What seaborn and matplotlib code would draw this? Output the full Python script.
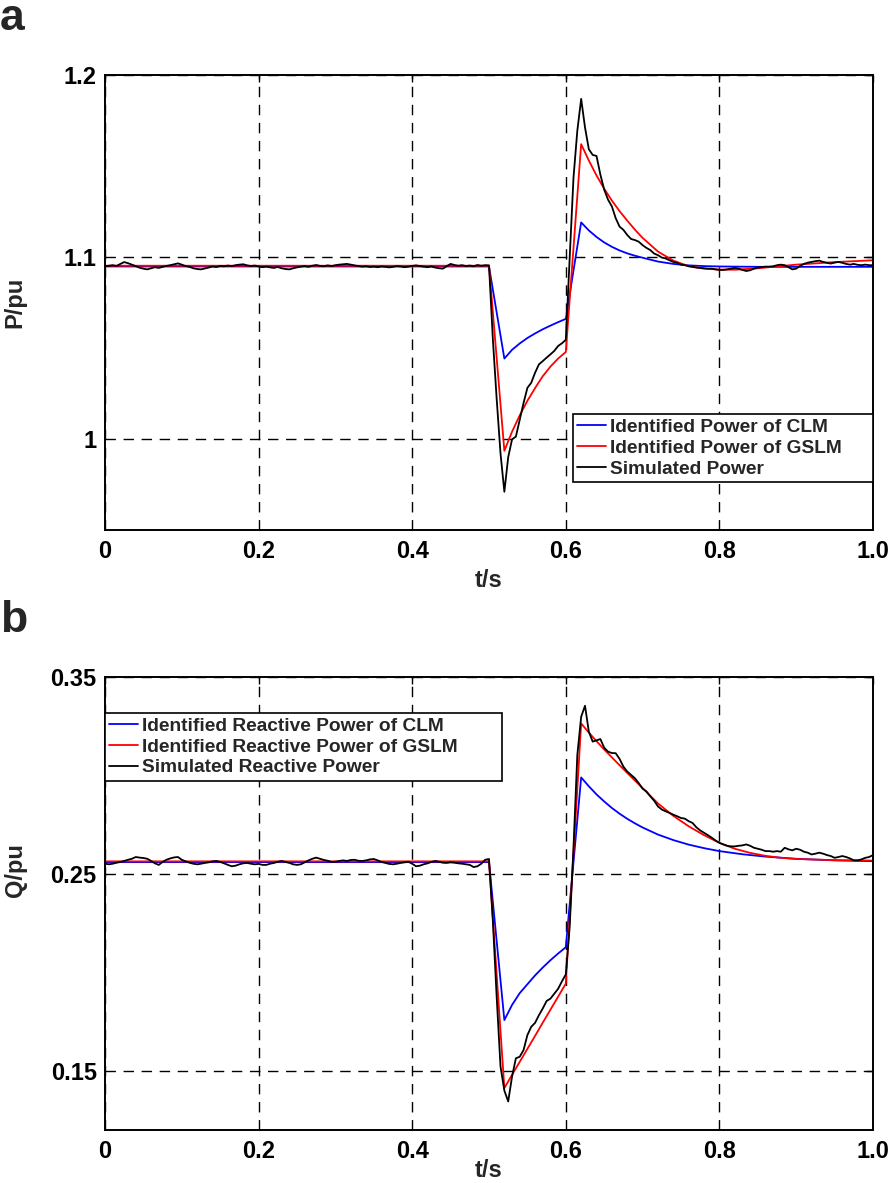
import numpy as np
import matplotlib
matplotlib.use('Agg')
import matplotlib.pyplot as plt
import seaborn as sns

# ---- panel a: active power ----
clm_p_t = [0, 0.50, 0.52, 0.53, 0.54, 0.55, 0.56, 0.57, 0.58, 0.59, 0.60, 0.62, 0.63, 0.64,
           0.65, 0.66, 0.67, 0.68, 0.69, 0.70, 0.72, 0.74, 0.76, 0.78, 0.80, 0.85, 0.90, 1.00]
clm_p = [1.0948, 1.0948, 1.0442, 1.0490, 1.0525, 1.0555, 1.0580, 1.0603, 1.0623, 1.0642,
         1.0660, 1.1190, 1.1146, 1.1110, 1.1080, 1.1056, 1.1036, 1.1020, 1.1007, 1.0996,
         1.0975, 1.0962, 1.0954, 1.0950, 1.0948, 1.0946, 1.0946, 1.0946]

gslm_p_t = [0, 0.50, 0.52, 0.53, 0.54, 0.55, 0.56, 0.57, 0.58, 0.59, 0.60, 0.62, 0.63, 0.64,
            0.65, 0.66, 0.67, 0.68, 0.69, 0.70, 0.72, 0.74, 0.76, 0.78, 0.80, 0.82, 0.85,
            0.90, 0.95, 1.00]
gslm_p = [1.0952, 1.0952, 0.9935, 1.0040, 1.0130, 1.0210, 1.0280, 1.0345, 1.0398, 1.0442,
          1.0478, 1.1620, 1.1530, 1.1448, 1.1375, 1.1310, 1.1252, 1.1200, 1.1150, 1.1105,
          1.1030, 1.0980, 1.0950, 1.0936, 1.0931, 1.0930, 1.0938, 1.0958, 1.0972, 1.0982]

# simulated power, sampled every 0.005 s
sim_t = np.round(np.arange(201) * 0.005, 3)
sim_p = [1.0950, 1.0952, 1.0955, 1.0951, 1.0962, 1.0972, 1.0966, 1.0958, 1.0950, 1.0941, 1.0936,
         1.0932, 1.0938, 1.0944, 1.0940, 1.0946, 1.0951, 1.0955, 1.0960, 1.0965, 1.0958,
         1.0950, 1.0946, 1.0938, 1.0934, 1.0932, 1.0937, 1.0942, 1.0948, 1.0945, 1.0951,
         1.0949, 1.0953, 1.0950, 1.0955, 1.0958, 1.0960, 1.0954, 1.0950, 1.0953, 1.0948,
         1.0944, 1.0947, 1.0943, 1.0940, 1.0945, 1.0938, 1.0934, 1.0932, 1.0938, 1.0943,
         1.0947, 1.0950, 1.0946, 1.0952, 1.0956, 1.0951, 1.0949, 1.0954, 1.0950, 1.0955,
         1.0958, 1.0960, 1.0962, 1.0958, 1.0954, 1.0950, 1.0947, 1.0949, 1.0945, 1.0947,
         1.0944, 1.0948, 1.0946, 1.0943, 1.0946, 1.0950, 1.0948, 1.0944, 1.0947, 1.0951,
         1.0954, 1.0950, 1.0947, 1.0944, 1.0948, 1.0942, 1.0938, 1.0936, 1.0950, 1.0962,
         1.0956, 1.0952, 1.0955, 1.0950, 1.0953, 1.0949, 1.0956, 1.0952, 1.0955, 1.0954,
         1.0550, 1.0220, 0.9920, 0.9710, 0.9900, 0.9998, 1.0013, 1.0105, 1.0198, 1.0281,
         1.0309, 1.0364, 1.0410, 1.0428, 1.0447, 1.0465, 1.0484, 1.0511, 1.0526, 1.0545,
         1.0992, 1.1435, 1.1694, 1.1869, 1.1712, 1.1592, 1.1561, 1.1555, 1.1453, 1.1370,
         1.1315, 1.1278, 1.1213, 1.1167, 1.1149, 1.1121, 1.1099, 1.1093, 1.1084, 1.1065,
         1.1050, 1.1038, 1.1019, 1.1010, 1.0997, 1.0992, 1.0982, 1.0973, 1.0968, 1.0958,
         1.0955, 1.0949, 1.0946, 1.0942, 1.0940, 1.0938, 1.0936, 1.0936, 1.0932, 1.0929,
         1.0929, 1.0932, 1.0936, 1.0940, 1.0936, 1.0929, 1.0923, 1.0927, 1.0936, 1.0942,
         1.0944, 1.0947, 1.0947, 1.0949, 1.0955, 1.0958, 1.0955, 1.0944, 1.0932, 1.0936,
         1.0951, 1.0962, 1.0969, 1.0973, 1.0977, 1.0980, 1.0973, 1.0968, 1.0964, 1.0969,
         1.0973, 1.0968, 1.0962, 1.0958, 1.0962, 1.0957, 1.0955, 1.0958, 1.0955, 1.0955]

# ---- panel b: reactive power ----
clm_q_t = [0, 0.50, 0.52, 0.53, 0.54, 0.55, 0.56, 0.57, 0.58, 0.59, 0.60, 0.62, 0.63, 0.64,
           0.65, 0.66, 0.67, 0.68, 0.69, 0.70, 0.72, 0.74, 0.76, 0.78, 0.80, 0.83, 0.86,
           0.90, 0.95, 1.00]
clm_q = [0.2560, 0.2560, 0.1758, 0.1835, 0.1895, 0.1940, 0.1985, 0.2025, 0.2062, 0.2096,
         0.2128, 0.2990, 0.2945, 0.2904, 0.2868, 0.2835, 0.2806, 0.2780, 0.2757, 0.2736,
         0.2700, 0.2672, 0.2649, 0.2631, 0.2616, 0.2600, 0.2588, 0.2577, 0.2569, 0.2565]

gslm_q_t = [0, 0.50, 0.52, 0.53, 0.54, 0.55, 0.56, 0.57, 0.58, 0.59, 0.60, 0.62, 0.63, 0.64,
            0.65, 0.66, 0.67, 0.68, 0.69, 0.70, 0.72, 0.74, 0.76, 0.78, 0.80, 0.82, 0.84,
            0.86, 0.88, 0.90, 0.95, 1.00]
gslm_q = [0.2564, 0.2564, 0.1413, 0.1480, 0.1546, 0.1612, 0.1678, 0.1745, 0.1811, 0.1877,
          0.1943, 0.3264, 0.3218, 0.3174, 0.3132, 0.3092, 0.3052, 0.3013, 0.2974, 0.2936,
          0.2858, 0.2795, 0.2742, 0.2697, 0.2658, 0.2628, 0.2607, 0.2592, 0.2582, 0.2576,
          0.2570, 0.2568]

sim_q = [0.2552, 0.2549, 0.2552, 0.2557, 0.2561, 0.2566, 0.2572, 0.2577, 0.2586, 0.2583, 0.2581,
         0.2577, 0.2566, 0.2554, 0.2546, 0.2561, 0.2572, 0.2579, 0.2584, 0.2586, 0.2572,
         0.2564, 0.2557, 0.2552, 0.2549, 0.2552, 0.2556, 0.2559, 0.2564, 0.2566, 0.2561,
         0.2554, 0.2546, 0.2539, 0.2542, 0.2549, 0.2554, 0.2556, 0.2552, 0.2549, 0.2551,
         0.2546, 0.2546, 0.2552, 0.2556, 0.2562, 0.2566, 0.2561, 0.2556, 0.2549, 0.2546,
         0.2549, 0.2559, 0.2569, 0.2577, 0.2583, 0.2577, 0.2571, 0.2567, 0.2561, 0.2562,
         0.2566, 0.2569, 0.2566, 0.2571, 0.2572, 0.2567, 0.2566, 0.2569, 0.2574, 0.2576,
         0.2569, 0.2561, 0.2556, 0.2551, 0.2549, 0.2552, 0.2556, 0.2559, 0.2562, 0.2552,
         0.2539, 0.2542, 0.2549, 0.2554, 0.2561, 0.2566, 0.2562, 0.2557, 0.2556, 0.2559,
         0.2557, 0.2554, 0.2552, 0.2549, 0.2546, 0.2535, 0.2539, 0.2552, 0.2572, 0.2576,
         0.2263, 0.1875, 0.1522, 0.1400, 0.1345, 0.1471, 0.1564, 0.1572, 0.1606, 0.1682,
         0.1724, 0.1744, 0.1783, 0.1817, 0.1855, 0.1867, 0.1892, 0.1917, 0.1955, 0.1990,
         0.2229, 0.2633, 0.3104, 0.3298, 0.3354, 0.3222, 0.3172, 0.3178, 0.3185, 0.3141,
         0.3121, 0.3114, 0.3113, 0.3084, 0.3045, 0.3020, 0.3003, 0.2986, 0.2961, 0.2933,
         0.2919, 0.2894, 0.2872, 0.2843, 0.2827, 0.2818, 0.2810, 0.2801, 0.2793, 0.2784,
         0.2781, 0.2768, 0.2759, 0.2737, 0.2721, 0.2709, 0.2697, 0.2684, 0.2670, 0.2658,
         0.2650, 0.2643, 0.2640, 0.2640, 0.2643, 0.2645, 0.2650, 0.2643, 0.2633, 0.2628,
         0.2623, 0.2616, 0.2616, 0.2613, 0.2616, 0.2613, 0.2633, 0.2625, 0.2620, 0.2628,
         0.2623, 0.2613, 0.2608, 0.2599, 0.2603, 0.2608, 0.2603, 0.2596, 0.2591, 0.2582,
         0.2586, 0.2591, 0.2586, 0.2579, 0.2569, 0.2569, 0.2574, 0.2582, 0.2586, 0.2596]

x_ticks = [0, 0.2, 0.4, 0.6, 0.8, 1.0]
x_ticklabels = ['0', '0.2', '0.4', '0.6', '0.8', '1.0']
p_ticks = [1.0, 1.1, 1.2]
p_ticklabels = ['1', '1.1', '1.2']
q_ticks = [0.15, 0.25, 0.35]
q_ticklabels = ['0.15', '0.25', '0.35']

sns.set_style('white')
plt.rcParams['font.family'] = ['Liberation Sans', 'DejaVu Sans']
plt.rcParams['font.weight'] = 'bold'
plt.rcParams['axes.labelweight'] = 'bold'

fig = plt.figure(figsize=(8.92, 11.83), dpi=100)
ax1 = fig.add_axes([105/892, 1 - 530/1183, 768/892, 455/1183])
ax2 = fig.add_axes([105/892, 1 - 1130/1183, 768/892, 453/1183])


def draw_panel(ax, t1, y1, t2, y2, y3, names, ylim, yticks, yticklabels, ylabel, xpad):
    sns.lineplot(x=t1, y=y1, ax=ax, color='#0000ff', lw=1.3, label=names[0], estimator=None)
    sns.lineplot(x=t2, y=y2, ax=ax, color='#ff0000', lw=1.3, label=names[1], estimator=None)
    sns.lineplot(x=sim_t, y=y3, ax=ax, color='black', lw=1.3, label=names[2], estimator=None)
    ax.set_xlim(0, 1.0)
    ax.set_ylim(*ylim)
    ax.set_xticks(x_ticks)
    ax.set_xticklabels(x_ticklabels)
    ax.set_yticks(yticks)
    ax.set_yticklabels(yticklabels)
    ax.grid(True, color='black', lw=1.0, linestyle=(0, (7.5, 5.5)))
    ax.tick_params(direction='in', length=5, width=1, top=True, right=True,
                   labelsize=17, colors='black')
    ax.tick_params(axis='x', pad=7.5)
    ax.tick_params(axis='y', pad=6)
    for s in ax.spines.values():
        s.set_color('black')
        s.set_linewidth(1.4)
    ax.set_xlabel('t/s', fontsize=17, labelpad=xpad)
    ax.set_ylabel(ylabel, fontsize=17)


draw_panel(ax1, clm_p_t, clm_p, gslm_p_t, gslm_p, sim_p,
           ['Identified Power of CLM', 'Identified Power of GSLM', 'Simulated Power'],
           (0.95, 1.2), p_ticks, p_ticklabels, 'P/pu', 4)
draw_panel(ax2, clm_q_t, clm_q, gslm_q_t, gslm_q, sim_q,
           ['Identified Reactive Power of CLM', 'Identified Reactive Power of GSLM',
            'Simulated Reactive Power'],
           (0.12, 0.35), q_ticks, q_ticklabels, 'Q/pu', -3.5)

leg_kw = dict(fontsize=13.8, frameon=True, fancybox=False, edgecolor='black', framealpha=1,
              handlelength=1.5, handletextpad=0.2, borderpad=0.22, labelspacing=0.18,
              borderaxespad=0, mode='expand')
l1 = ax1.legend(loc='lower left', bbox_to_anchor=(468/768, 48/455, 300/768, 0), **leg_kw)
l2 = ax2.legend(loc='upper left', bbox_to_anchor=(0.0, 1 - 36/453, 397/768, 0), **leg_kw)
for l in (l1, l2):
    l.get_frame().set_linewidth(1.2)

ax1.yaxis.set_label_coords(-0.102, 0.5)
ax2.yaxis.set_label_coords(-0.102, 0.574)

fig.text(0.0, 1 - 30/1183, 'a', fontsize=32, weight='bold', va='baseline', ha='left')
fig.text(0.0, 1 - 632/1183, 'b', fontsize=32, weight='bold', va='baseline', ha='left')

fig.savefig('out.png', dpi=100)
